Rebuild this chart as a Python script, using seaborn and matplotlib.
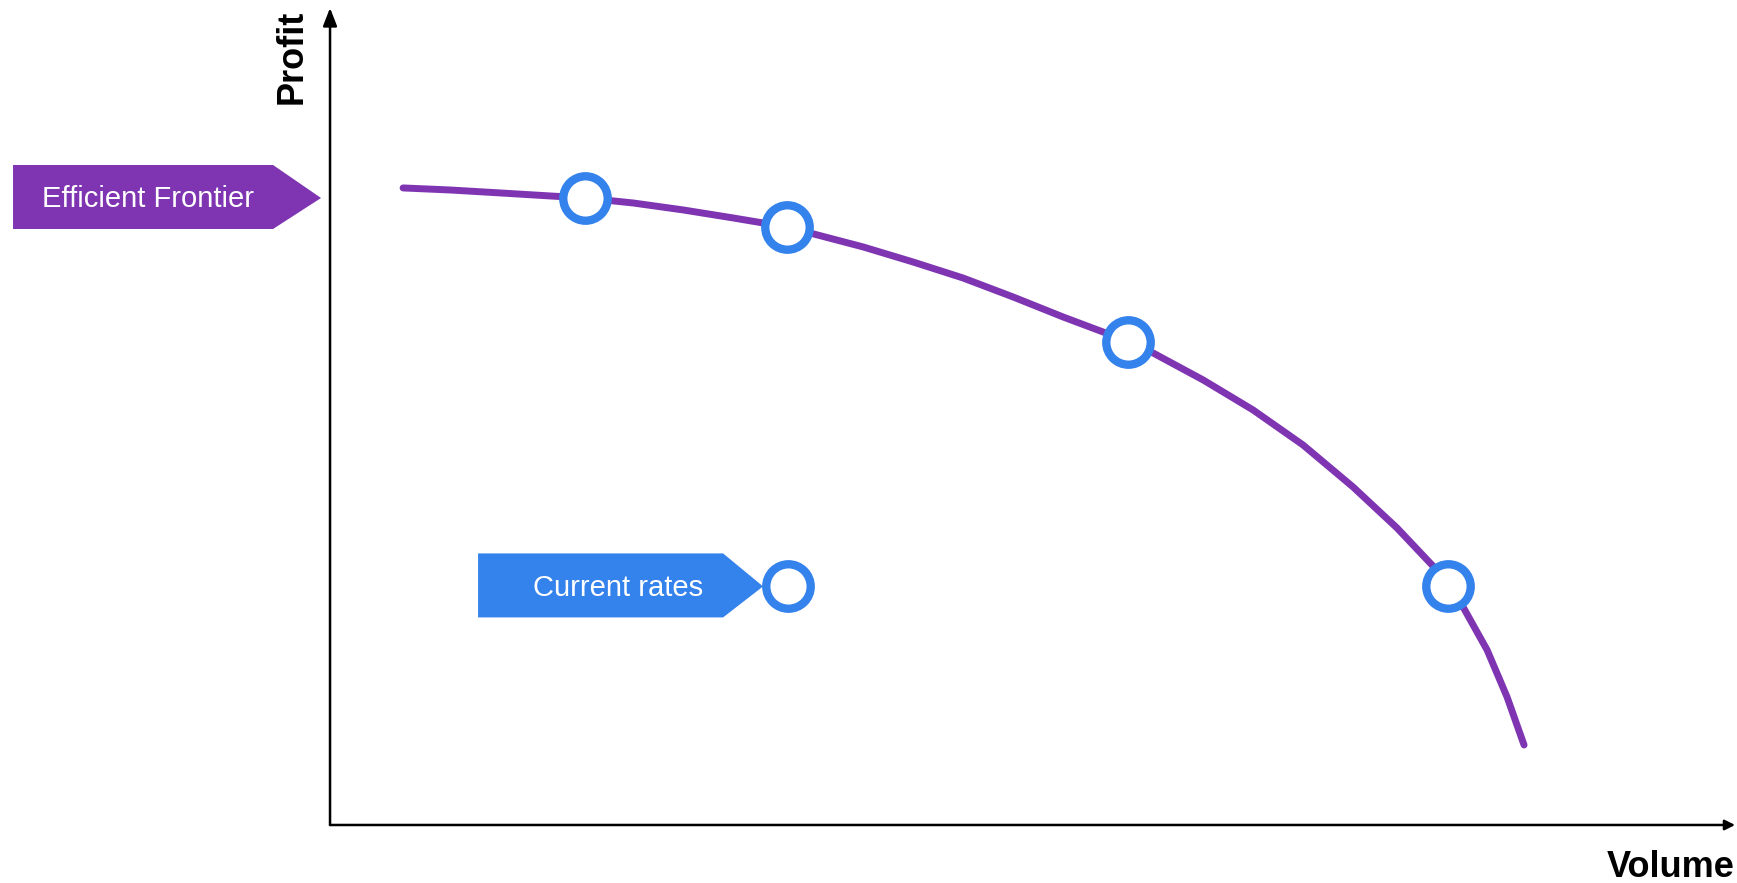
import matplotlib
matplotlib.use("Agg")
import matplotlib.pyplot as plt
import matplotlib.transforms as mtransforms
from matplotlib.patches import Polygon
import pandas as pd
import seaborn as sns

# Efficient frontier curve (volume vs profit, arbitrary units)
curve_volume = [5.20, 8.54, 12.10, 15.66, 18.15, 21.57, 25.12, 28.68, 32.53,
                37.94, 41.49, 45.05, 48.61, 52.17, 55.02, 56.80, 58.58, 62.14,
                65.69, 69.25, 72.81, 75.94, 78.43, 79.57, 80.64, 82.35, 83.77,
                84.98]
curve_profit = [77.97, 77.72, 77.36, 76.99, 76.74, 76.13, 75.28, 74.30, 73.19,
                70.75, 68.91, 66.95, 64.63, 62.18, 60.34, 59.12, 57.77, 54.47,
                50.80, 46.51, 41.37, 36.35, 31.82, 29.25, 26.68, 21.42, 15.67,
                9.79]

# Candidate operating points on the frontier
frontier_volume = [18.15, 32.53, 56.80, 79.57]
frontier_profit = [76.74, 73.19, 59.12, 29.25]

# Where the business sits today
current_volume = [32.6]
current_profit = [29.2]

axis_labels = ["Volume", "Profit"]
tag_labels = ["Efficient Frontier", "Current rates"]

PURPLE = "#7F35B2"
BLUE = "#3482EC"

sns.set_theme(style="white")
plt.rcParams["font.family"] = ["Liberation Sans", "DejaVu Sans"]

fig = plt.figure(figsize=(17.37, 8.83), dpi=100)
ax = fig.add_axes([0.19, 0.0657, 0.8089, 0.9253])
ax.set_xlim(0, 100)
ax.set_ylim(0, 100)
ax.set_xticks([])
ax.set_yticks([])
for s in ax.spines.values():
    s.set_visible(False)

curve = pd.DataFrame({"volume": curve_volume, "profit": curve_profit})
sns.lineplot(data=curve, x="volume", y="profit", sort=False, ax=ax,
             color=PURPLE, linewidth=5, solid_capstyle="round",
             solid_joinstyle="round", zorder=2)

pts = pd.DataFrame({"volume": frontier_volume + current_volume,
                    "profit": frontier_profit + current_profit})
sns.scatterplot(data=pts, x="volume", y="profit", ax=ax, marker="o", s=32 ** 2,
                facecolor="white", edgecolor=BLUE, linewidth=6, zorder=4,
                legend=False)

# Axis arrows: a full head on the profit axis, a small one at the volume end
ax.annotate("", xy=(0, 1.0), xycoords="axes fraction", xytext=(0, 0),
            textcoords="axes fraction",
            arrowprops=dict(arrowstyle="-|>,head_length=0.9,head_width=0.35",
                            color="black", lw=1.8, shrinkA=0, shrinkB=0))
ax.annotate("", xy=(1.0, 0), xycoords="axes fraction", xytext=(0, 0),
            textcoords="axes fraction",
            arrowprops=dict(arrowstyle="-|>,head_length=0.5,head_width=0.25",
                            color="black", lw=1.8, shrinkA=0, shrinkB=0))

ax.set_xlabel("")
ax.set_ylabel("")
ax.text(1.0, -0.031, axis_labels[0], transform=ax.transAxes, ha="right", va="top",
        fontsize=26, fontweight="bold", color="black")
ax.text(-0.027, 0.94, axis_labels[1], transform=ax.transAxes, ha="center",
        va="center", rotation=90, fontsize=26, fontweight="bold", color="black")


def tag(anchor_trans, x, y, left, right, tip, top, bottom, text_dx, text_dy,
        label, color):
    """Arrow-shaped tag drawn in pixel offsets around an anchor point."""
    tr = mtransforms.Affine2D() + mtransforms.ScaledTranslation(x, y, anchor_trans)
    poly = Polygon([(left, top), (right, top), (tip, 0), (right, bottom),
                    (left, bottom)], closed=True, transform=tr,
                   facecolor=color, edgecolor="none", clip_on=False, zorder=3)
    ax.add_patch(poly)
    ax.text(text_dx, text_dy, label, transform=tr, ha="center", va="baseline",
            fontsize=21, color="white", clip_on=False, zorder=5)


# Frontier tag sits left of the profit axis, level with the first frontier point
blend = mtransforms.blended_transform_factory(ax.transAxes, ax.transData)
tag(blend, 0, frontier_profit[0], -317, -57, -9, 33, -31, -182.5, -9,
    tag_labels[0], PURPLE)

# Current-rates tag points at the current operating point
tag(ax.transData, current_volume[0], current_profit[0], -310, -65, -25, 33, -31,
    -170.5, -10, tag_labels[1], BLUE)

fig.savefig("out.png", dpi=100, facecolor="white")
